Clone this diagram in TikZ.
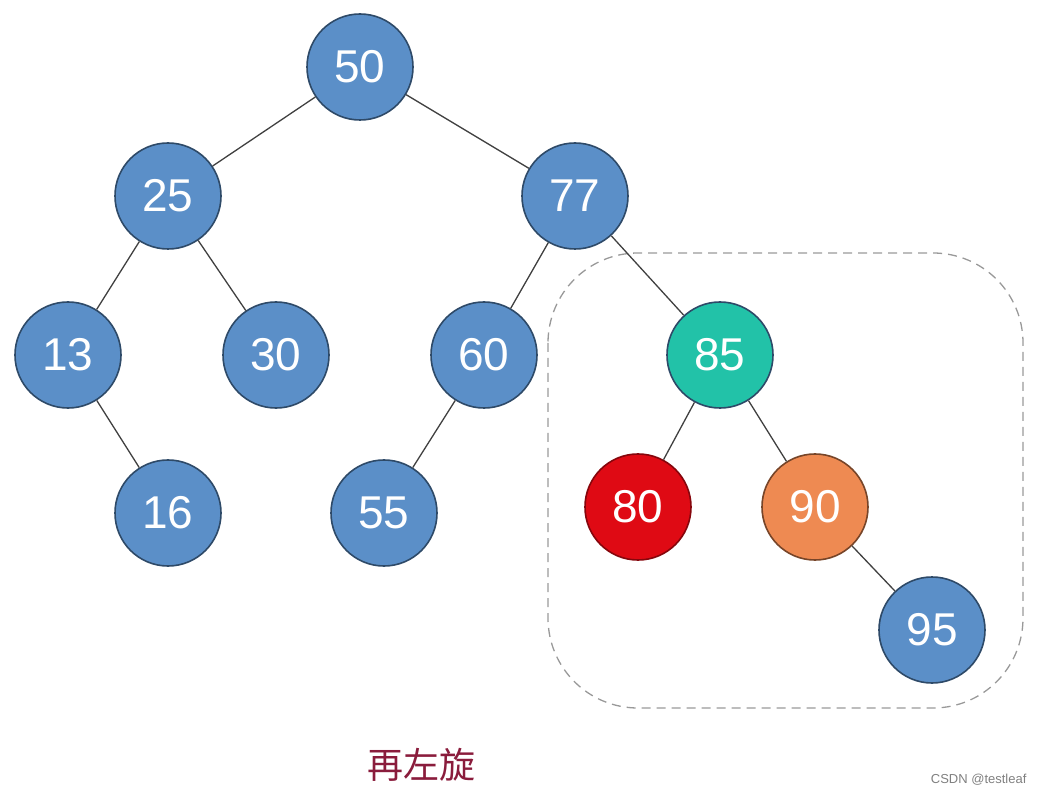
\documentclass[tikz,border=0pt]{standalone}
\usepackage{fontspec}
\setmainfont{Liberation Sans}
\newfontfamily\cjk{Noto Sans CJK SC}
\definecolor{nblue}{HTML}{5B8FC8}
\definecolor{nedge}{HTML}{2E4A68}
\definecolor{nteal}{HTML}{22C2A8}
\definecolor{nred}{HTML}{DF0A14}
\definecolor{norange}{HTML}{EE8A52}
\definecolor{lbl}{HTML}{8A1C3C}
\begin{document}
\begin{tikzpicture}[x=1pt,y=-1pt,
  tnode/.style={circle,draw=nedge,line width=1.6pt,fill=nblue,minimum size=106pt,inner sep=0pt,
    text=white,font=\fontsize{46}{46}\selectfont},
  link/.style={draw=black!75,line width=1.3pt}]
\useasboundingbox (0,0) rectangle (1045,794);
\draw[gray!80,line width=1.3pt,dash pattern=on 9pt off 6pt,rounded corners=90pt] (548,253) rectangle (1023,708);
\node[tnode] (n50) at (360,67) {50};
\node[tnode] (n25) at (168,196) {25};
\node[tnode] (n77) at (575,196) {77};
\node[tnode] (n13) at (68,355) {13};
\node[tnode] (n30) at (276,355) {30};
\node[tnode] (n60) at (484,355) {60};
\node[tnode,fill=nteal] (n85) at (720,355) {85};
\node[tnode] (n16) at (168,513) {16};
\node[tnode] (n55) at (384,513) {55};
\node[tnode,fill=nred,draw=nred!60!black] (n80) at (638,507) {80};
\node[tnode,fill=norange,draw=norange!50!black] (n90) at (815,507) {90};
\node[tnode] (n95) at (932,630) {95};
\draw[link] (n50) -- (n25);
\draw[link] (n50) -- (n77);
\draw[link] (n25) -- (n13);
\draw[link] (n25) -- (n30);
\draw[link] (n77) -- (n60);
\draw[link] (n77) -- (n85);
\draw[link] (n13) -- (n16);
\draw[link] (n60) -- (n55);
\draw[link] (n85) -- (n80);
\draw[link] (n85) -- (n90);
\draw[link] (n90) -- (n95);
\node[text=lbl,font=\cjk\fontsize{36}{36}\selectfont] (lab) at (421,765) {再左旋};
\node[text=gray,font=\fontsize{13}{13}\selectfont,anchor=east] (wm) at (1030,780) {CSDN @testleaf};
\end{tikzpicture}
\end{document}
